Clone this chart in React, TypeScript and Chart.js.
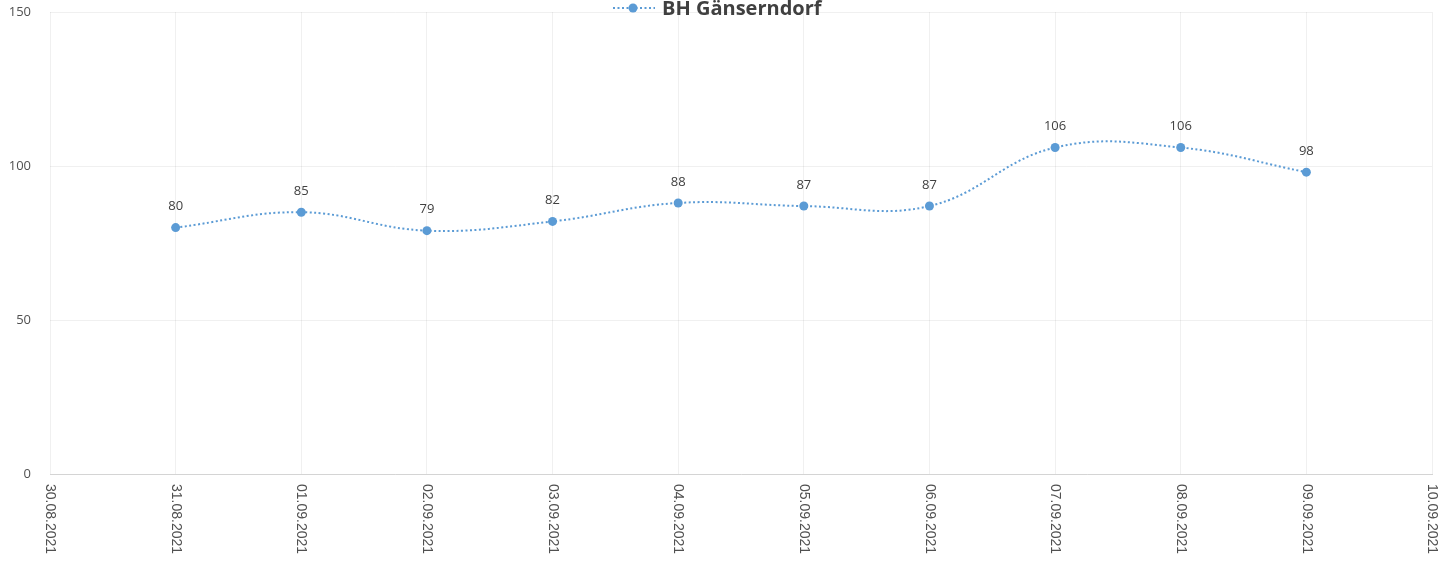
import React, { useEffect, useRef } from 'react';
import { Chart, registerables } from 'chart.js';
Chart.register(...registerables);

const categories = [
  '30.08.2021', '31.08.2021', '01.09.2021', '02.09.2021', '03.09.2021', '04.09.2021',
  '05.09.2021', '06.09.2021', '07.09.2021', '08.09.2021', '09.09.2021', '10.09.2021',
];
const seriesName = 'BH Gänserndorf';
const values: (number | null)[] = [null, 80, 85, 79, 82, 88, 87, 87, 106, 106, 98, null];
const yTicks = [0, 50, 100, 150];

const LINE_COLOR = '#5b9bd5';
const TEXT_COLOR = '#404040';

const customPlugin = {
  id: 'customDraw',
  afterDraw(chart: any) {
    const ctx = chart.ctx;
    const xs = chart.scales.x;
    const area = chart.chartArea;
    ctx.save();
    // x labels, rotated to read top-to-bottom
    ctx.fillStyle = '#505050';
    ctx.font = '14px "Liberation Sans", Arial, sans-serif';
    categories.forEach((c, i) => {
      const x = xs.getPixelForValue(i);
      ctx.save();
      ctx.translate(x, area.bottom + 10);
      ctx.rotate(Math.PI / 2);
      ctx.textAlign = 'left';
      ctx.textBaseline = 'middle';
      ctx.fillText(c, 0, 0);
      ctx.restore();
    });
    // data labels
    const meta = chart.getDatasetMeta(0);
    ctx.fillStyle = TEXT_COLOR;
    ctx.font = '13px "Open Sans", sans-serif';
    ctx.textAlign = 'center';
    ctx.textBaseline = 'middle';
    meta.data.forEach((pt: any, i: number) => {
      const v = values[i];
      if (v === null || v === undefined) return;
      ctx.fillText(String(v), pt.x, pt.y - 21);
    });
    // legend
    const lx = 613;
    const ly = 8;
    ctx.strokeStyle = LINE_COLOR;
    ctx.lineWidth = 2;
    ctx.setLineDash([2, 2.5]);
    ctx.beginPath();
    ctx.moveTo(lx, ly);
    ctx.lineTo(lx + 42, ly);
    ctx.stroke();
    ctx.setLineDash([]);
    ctx.fillStyle = LINE_COLOR;
    ctx.beginPath();
    ctx.arc(lx + 20, ly, 4.5, 0, Math.PI * 2);
    ctx.fill();
    ctx.fillStyle = TEXT_COLOR;
    ctx.font = 'bold 20px "Open Sans", sans-serif';
    ctx.textAlign = 'left';
    ctx.textBaseline = 'middle';
    ctx.fillText(seriesName, lx + 49, ly + 1);
    ctx.restore();
  },
};

export default function App() {
  const ref = useRef<HTMLCanvasElement>(null);
  useEffect(() => {
    document.body.style.margin = '0';
    const chart = new Chart(ref.current!, {
      type: 'line',
      data: {
        labels: categories,
        datasets: [
          {
            label: seriesName,
            data: values,
            borderColor: LINE_COLOR,
            backgroundColor: LINE_COLOR,
            borderWidth: 2,
            borderDash: [2, 2.5],
            tension: 0.4,
            pointRadius: 4.5,
            pointBackgroundColor: LINE_COLOR,
            pointBorderWidth: 0,
            spanGaps: false,
          },
        ],
      },
      options: {
        animation: false,
        responsive: false,
        maintainAspectRatio: false,
        layout: { padding: { top: 12, right: 18, bottom: 0, left: 0 } },
        plugins: { legend: { display: false }, tooltip: { enabled: false } },
        scales: {
          x: {
            offset: false,
            grid: { color: 'rgba(0,0,0,0.06)', drawTicks: false },
            border: { color: '#d4d4d4', width: 1 },
            ticks: { display: false },
            afterFit: (s: any) => { s.height = 87; },
          },
          y: {
            min: 0,
            max: 150,
            afterBuildTicks: (s: any) => { s.ticks = yTicks.map((v) => ({ value: v })); },
            grid: { color: 'rgba(0,0,0,0.06)', drawTicks: false },
            border: { display: false },
            ticks: {
              padding: 19,
              color: '#505050',
              font: { family: '"Open Sans", sans-serif', size: 13 },
            },
            afterFit: (s: any) => {
              s.width = 50;
              s.paddingTop = 0;
              s.paddingBottom = 0;
            },
          },
        },
      },
      plugins: [customPlugin],
    });
    return () => chart.destroy();
  }, []);
  return <canvas ref={ref} width={1450} height={561} style={{ display: 'block' }} />;
}
